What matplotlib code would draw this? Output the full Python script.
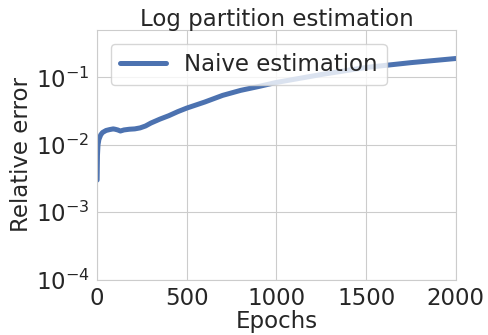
import numpy as np
import matplotlib
matplotlib.use("Agg")
import matplotlib.pyplot as plt
import seaborn as sns

# relative error of the naive log partition estimate
epochs = [0, 2, 5, 10, 20, 30, 50, 70, 90, 100, 115, 130, 150, 180, 210, 240, 270,
          300, 350, 400, 450, 500, 600, 700, 800, 900, 1000, 1250, 1500, 1750, 2000]
rel_err = [0.003, 0.007, 0.0100, 0.0120, 0.0140, 0.0152, 0.0163, 0.0168, 0.0172, 0.0170,
           0.0166, 0.0160, 0.0166, 0.0170, 0.0172, 0.0178, 0.0190, 0.0210, 0.0240,
           0.0270, 0.0310, 0.0350, 0.0430, 0.0540, 0.0640, 0.0730, 0.0840, 0.1100,
           0.1400, 0.1650, 0.1900]

sns.set_style("whitegrid")
plt.rcParams["font.family"] = ["DejaVu Sans"]

fig, ax = plt.subplots(figsize=(4.88, 3.35), dpi=100)
ax.plot(epochs, rel_err, color="#4c72b0", linewidth=3.6, label="Naive estimation")
ax.set_yscale("log")
ax.set_ylim(1e-4, 0.5)
ax.set_xlim(0, 2000)
ax.set_xticks([0, 500, 1000, 1500, 2000])
ax.tick_params(labelsize=16.5, pad=2)
ax.set_title("Log partition estimation", fontsize=16.5, pad=3)
ax.set_xlabel("Epochs", fontsize=16.5, labelpad=0)
ax.set_ylabel("Relative error", fontsize=16.5, labelpad=2)
ax.legend(loc="upper left", fontsize=16.5, handlelength=2.0, borderaxespad=0.6)
fig.subplots_adjust(left=0.199, right=0.934, top=0.91, bottom=0.165)
fig.savefig("out.png", dpi=100)
